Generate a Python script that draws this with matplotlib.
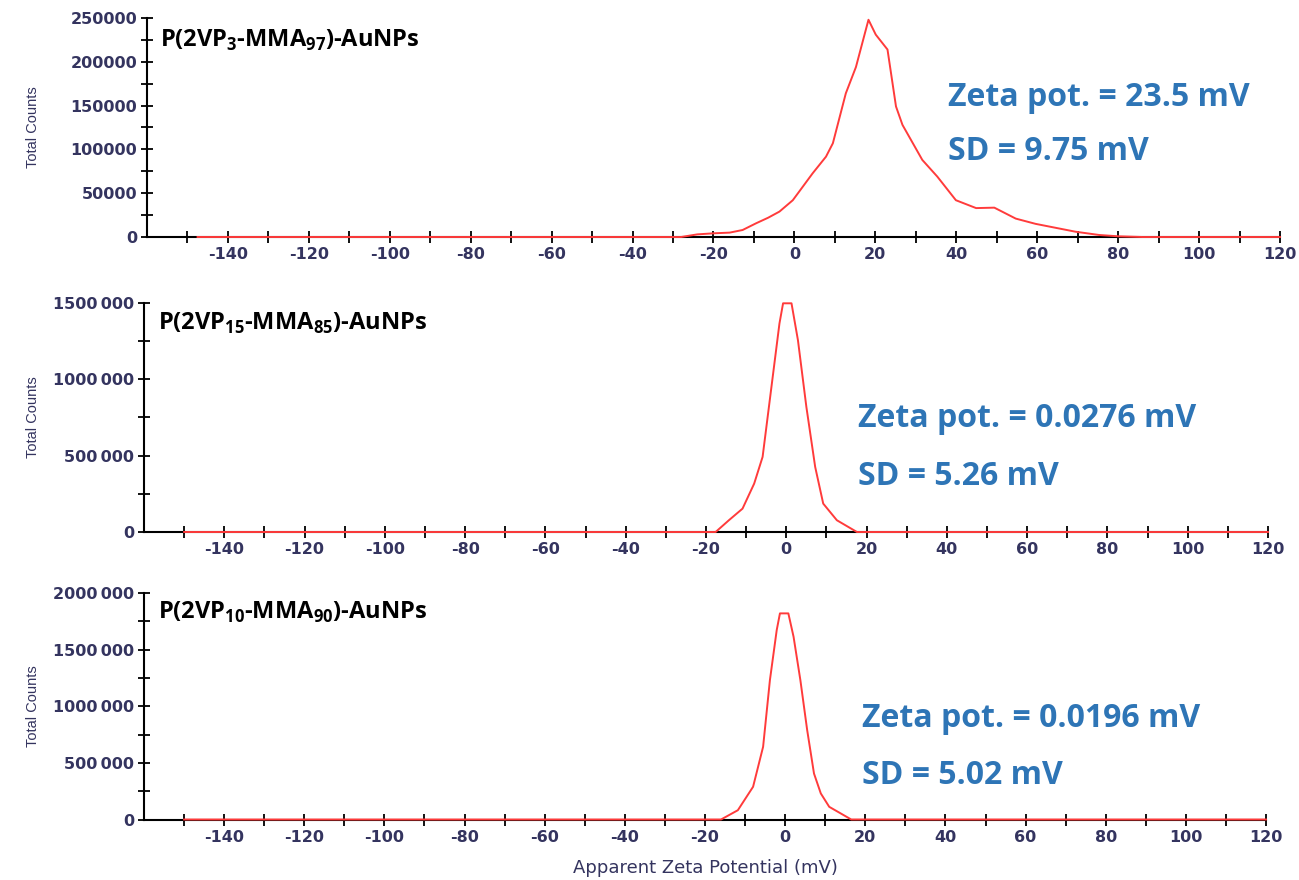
import numpy as np
import matplotlib
matplotlib.use("Agg")
import matplotlib.pyplot as plt
from matplotlib.ticker import MultipleLocator, FixedLocator

plt.rcParams['mathtext.fontset'] = 'custom'
plt.rcParams['mathtext.rm'] = 'Open Sans'
plt.rcParams['mathtext.bf'] = 'Open Sans:bold'

# zeta potential distributions (mV, total counts)
x_top = [-147.5, -28, -24, -20, -16, -12.8, -9.5, -6.5, -3.7, -0.4, 1.2, 4.5, 7.8, 9.5,
         12.7, 15.2, 18.3, 20.1, 23, 25.1, 26.7, 31.6, 35.3, 39.9, 44.9, 49.4, 54.7,
         59.6, 69.5, 75.3, 80, 86, 120]
y_top = [0, 0, 3000, 4200, 5000, 8000, 15600, 22000, 29000, 42000, 52000, 72700, 91700,
         107000, 164000, 194000, 248000, 231000, 214000, 149000, 128000, 88000, 69000,
         42000, 33000, 33500, 21000, 15000, 6000, 2300, 800, 0, 0]

x_mid = [-150, -17.6, -14.3, -10.9, -8.0, -5.9, -3.8, -1.7, -0.8, 1.3, 2.9, 5.0, 7.2,
         9.2, 12.6, 17.6, 120]
y_mid = [0, 0, 77000, 153000, 317000, 492000, 929000, 1366000, 1498000, 1498000,
         1257000, 820000, 426000, 186000, 77000, 0, 0]

x_bot = [-150, -16.0, -11.8, -8.0, -5.5, -3.8, -2.1, -1.3, 0.8, 2.1, 3.8, 5.5, 7.2,
         8.9, 11.0, 16.5, 120]
y_bot = [0, 0, 82000, 289000, 642000, 1231000, 1673000, 1820000, 1820000, 1614000,
         1231000, 789000, 406000, 230000, 112000, 0, 0]

titles = ["P(2VP$_\\mathbf{3}$-MMA$_\\mathbf{97}$)-AuNPs",
          "P(2VP$_\\mathbf{15}$-MMA$_\\mathbf{85}$)-AuNPs",
          "P(2VP$_\\mathbf{10}$-MMA$_\\mathbf{90}$)-AuNPs"]
zeta = ["Zeta pot. = 23.5 mV", "Zeta pot. = 0.0276 mV", "Zeta pot. = 0.0196 mV"]
sd = ["SD = 9.75 mV", "SD = 5.26 mV", "SD = 5.02 mV"]

ymax = [250000, 1500000, 2000000]
ymajor = [50000, 500000, 500000]
yminor = [25000, 250000, 250000]

W, H = 1299, 880
fig = plt.figure(figsize=(W / 100, H / 100), dpi=100)

# axes boxes in pixels: left, right, bottom(zero), top
boxes = [(147, 1280, 237, 18), (144, 1268, 532, 303), (144, 1266, 819.5, 593)]
title_pos = [(160, 40), (158, 323), (158, 612)]
zeta_pos = [(948, 97, 152), (858, 418, 476), (862, 718, 775)]

lab_col = '#34345f'
blue = '#2e75b6'
red = '#ff3b3b'
tick_font = 'DejaVu Sans'

data = [(x_top, y_top), (x_mid, y_mid), (x_bot, y_bot)]

for i in range(3):
    l, r, b, t = boxes[i]
    ax = fig.add_axes([l / W, 1 - b / H, (r - l) / W, (b - t) / H])
    xs, ys = data[i]
    ax.plot(xs, ys, color=red, lw=1.4, zorder=3, clip_on=False)
    ax.set_xlim(-160, 120)
    ax.set_ylim(0, ymax[i])
    for s in ['top', 'right']:
        ax.spines[s].set_visible(False)
    for s in ['left', 'bottom']:
        ax.spines[s].set_linewidth(1.5)
    ax.xaxis.set_major_locator(FixedLocator(np.arange(-140, 121, 20)))
    ax.xaxis.set_minor_locator(FixedLocator(np.arange(-150, 121, 20)))
    ax.yaxis.set_major_locator(MultipleLocator(ymajor[i]))
    ax.yaxis.set_minor_locator(MultipleLocator(yminor[i]))
    ax.tick_params(which='both', direction='inout', length=8, width=1.3,
                   labelsize=11.5, labelcolor=lab_col)
    ax.tick_params(axis='y', pad=3)
    if i == 0:
        ylbls = [f"{int(v)}" for v in ax.get_yticks()]
    else:
        ylbls = []
        for v in ax.get_yticks():
            v = int(v)
            ylbls.append("0" if v == 0 else f"{v // 1000}\u2009{v % 1000:03d}")
    ax.set_yticklabels(ylbls, family=tick_font, fontweight='bold')
    ax.set_xticklabels([str(v) for v in range(-140, 121, 20)],
                       family=tick_font, fontweight='bold')
    ax.set_ylabel("Total Counts", fontsize=10.5, color=lab_col, family='Liberation Sans')
    ax.yaxis.set_label_coords(-(l - 40) / (r - l), 0.5)
    if i == 2:
        ax.set_xlabel("Apparent Zeta Potential (mV)", fontsize=13, color=lab_col,
                      family=tick_font, labelpad=10)

    tx, ty = title_pos[i]
    fig.text(tx / W, 1 - ty / H, titles[i], fontsize=17, fontweight='bold',
             family='Open Sans', va='center', ha='left')
    zx, zy, sy = zeta_pos[i]
    fig.text(zx / W, 1 - zy / H, zeta[i], fontsize=23, fontweight='bold',
             family='Open Sans', color=blue, va='center', ha='left')
    fig.text(zx / W, 1 - sy / H, sd[i], fontsize=23, fontweight='bold',
             family='Open Sans', color=blue, va='center', ha='left')

fig.savefig("out.png", dpi=100)
